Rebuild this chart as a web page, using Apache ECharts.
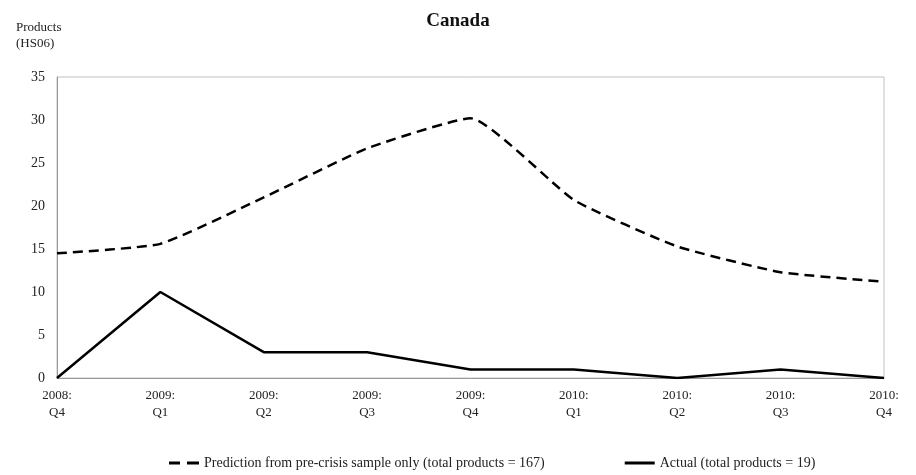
<!DOCTYPE html>
<html>
<head>
<meta charset="utf-8">
<script src="https://cdn.jsdelivr.net/npm/echarts@6/dist/echarts.min.js"></script>
<style>
  html, body { margin: 0; padding: 0; background: #fff; }
  #main { width: 916px; height: 475px; }
</style>
</head>
<body>
<div id="main"></div>
<script>
var quarters = ['2008:\nQ4', '2009:\nQ1', '2009:\nQ2', '2009:\nQ3', '2009:\nQ4', '2010:\nQ1', '2010:\nQ2', '2010:\nQ3', '2010:\nQ4'];
var predicted = [14.5, 15.6, 21.0, 26.7, 30.2, 20.7, 15.3, 12.3, 11.2];
var actual = [0, 10, 3, 3, 1, 1, 0, 1, 0];
var predName = 'Prediction from pre-crisis sample only (total products = 167)';
var actualName = 'Actual (total products = 19)';

var font = '"Liberation Serif", "DejaVu Serif", serif';
var chart = echarts.init(document.getElementById('main'));
chart.setOption({
  animation: false,
  textStyle: { fontFamily: font, color: '#222' },
  title: {
    text: 'Canada',
    left: 'center',
    top: 7,
    textStyle: { fontFamily: font, fontSize: 19, fontWeight: 'bold', color: '#111' }
  },
  graphic: [{
    type: 'text',
    left: 16,
    top: 20,
    style: { text: 'Products\n(HS06)', font: '13px ' + font, fill: '#222', lineHeight: 16 }
  }],
  legend: {
    top: 451,
    left: 164,
    itemGap: 80,
    itemWidth: 30,
    itemHeight: 3,
    textStyle: { fontFamily: font, fontSize: 14, color: '#222' },
    data: [
      { name: predName, icon: 'path://M0,0 H11 V3 H0 Z M18,0 H30 V3 H18 Z', itemStyle: { color: '#000' } },
      { name: actualName, icon: 'path://M0,0 H30 V3 H0 Z', itemStyle: { color: '#000' } }
    ]
  },
  grid: {
    left: 57, right: 32, top: 77, bottom: 97,
    show: true, borderColor: '#c0c0c0', borderWidth: 1
  },
  xAxis: {
    type: 'category',
    data: quarters,
    boundaryGap: false,
    axisLine: { lineStyle: { color: '#999' } },
    axisTick: { show: false },
    axisLabel: { interval: 0, fontSize: 13, lineHeight: 17, margin: 9, color: '#222', fontFamily: font }
  },
  yAxis: {
    type: 'value',
    min: 0, max: 35, interval: 5,
    axisLine: { show: true, lineStyle: { color: '#999' } },
    axisTick: { show: false },
    splitLine: { show: false },
    axisLabel: { fontSize: 14, margin: 12, color: '#222', fontFamily: font }
  },
  series: [
    {
      name: predName,
      type: 'line',
      data: predicted,
      smooth: 0.15,
      symbol: 'none',
      itemStyle: { color: '#000' },
      lineStyle: { color: '#000', width: 2.5, type: [10, 6] }
    },
    {
      name: actualName,
      type: 'line',
      data: actual,
      symbol: 'none',
      itemStyle: { color: '#000' },
      lineStyle: { color: '#000', width: 2.5 }
    }
  ]
});
</script>
</body>
</html>
